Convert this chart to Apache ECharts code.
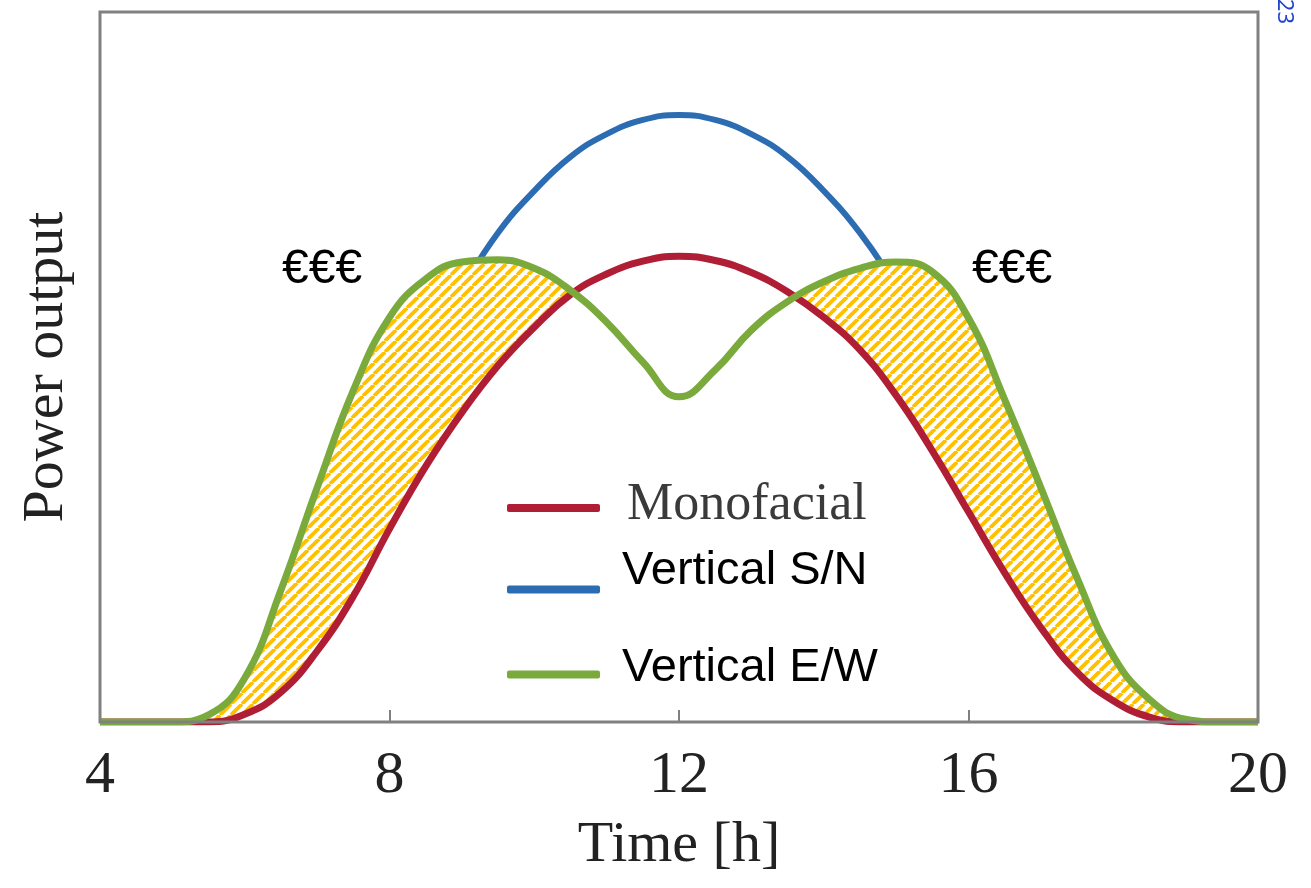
<!DOCTYPE html>
<html><head><meta charset="utf-8">
<script src="https://cdn.jsdelivr.net/npm/echarts@6.0.0/dist/echarts.min.js"></script>
<style>html,body{margin:0;padding:0;background:#fff}#c{width:1311px;height:888px}</style>
</head><body><div id="c"></div>
<script>
// ---- data ----
const hours = [4,4.5,5,5.5,6,6.5,7,7.5,8,8.5,9,9.5,10,10.5,11,11.5,12,12.5,13,13.5,14,14.5,15,15.5,16,16.5,17,17.5,18,18.5,19,19.5,20];
const monofacial = [0,0,0,0,1.1,4.2,10,17.7,27.2,36,43.6,50.2,55.6,60.2,63.1,64.9,65.6,65.0,63.3,60.6,57.0,52.4,46.0,38.2,29.6,21.0,13.3,7.0,3.0,0.7,0,0,0];
const verticalSN = [0,0,0,0.3,3,10,20,31,42,52,61,68.9,74.8,79.6,82.8,84.8,85.5,84.8,82.8,79.6,74.8,68.9,61.5,54,45,34,23,12,4,0.8,0,0,0];
const verticalEW = [0,0,0,1.0,6.2,18.6,33,46.7,57,62.4,64.8,65.1,63.9,60.8,56.3,50.7,45.8,49.6,55.2,59.2,62.0,63.9,64.8,63.4,56.9,45.4,33,20.3,9.3,3.2,0.4,0,0];
const xTicks = [4,8,12,16,20];
const seriesNames = ['Monofacial','Vertical S/N','Vertical E/W'];
const xAxisName = 'Time [h]';
const yAxisName = 'Power output';
const gainLabel = '€€€';

const pair = arr => hours.map((h,i)=>[h, arr[i]]);

// hatch pattern
const T = 11;
const pc = document.createElement('canvas');
pc.width = T; pc.height = T;
const ctx = pc.getContext('2d');
ctx.fillStyle = '#ffffff'; ctx.fillRect(0,0,T,T);
ctx.strokeStyle = '#FFC000'; ctx.lineWidth = 3.8;
for (const o of [-T,0,T]) { ctx.beginPath(); ctx.moveTo(o,T); ctx.lineTo(o+T,0); ctx.stroke(); }

const RED='#B01E36', BLUE='#2B6CB2', GREEN='#7BAA3C';
const SERIF = '"Liberation Serif","Times New Roman",serif';
const SANS = '"Liberation Sans","Noto Sans",sans-serif';
const SM = 0.45;

function legendItem(name, top, font, size, lh, color, spacer, padLeft) {
  return {
    selectedMode:false, orient:'vertical', left:507, top:top, padding:0,
    icon:'roundRect', itemWidth:93, itemHeight:8,
    data:[name],
    formatter: n => '{t|' + n + '}\n{s| }',
    textStyle:{rich:{
      t:{fontFamily:font, fontSize:size, lineHeight:lh, color:color, padding:[0,0,0,padLeft]},
      s:{fontSize:1, lineHeight:spacer}
    }}
  };
}

const chart = echarts.init(document.getElementById('c'), null, {renderer:'canvas'});
chart.setOption({
  animation:false,
  backgroundColor:'#fff',
  grid:{left:100,right:53,top:12,bottom:166,show:true,borderColor:'#808080',borderWidth:3,backgroundColor:'transparent',z:10},
  xAxis:{type:'value',min:4,max:20,interval:4,z:10,
    name:xAxisName,nameLocation:'middle',nameGap:95,
    nameTextStyle:{fontFamily:SERIF,fontSize:58,color:'#222'},
    axisLine:{show:false},
    axisTick:{show:true,inside:true,length:12,lineStyle:{color:'#808080',width:2}},
    axisLabel:{margin:24,fontFamily:SERIF,fontSize:60,color:'#222',
      formatter:v=>xTicks.includes(v)?String(v):''},
    splitLine:{show:false}},
  yAxis:{type:'value',min:0,max:100,
    name:yAxisName,nameLocation:'middle',nameGap:24,nameRotate:90,
    nameTextStyle:{fontFamily:SERIF,fontSize:58,color:'#222'},
    axisLine:{show:false},axisTick:{show:false},axisLabel:{show:false},splitLine:{show:false}},
  legend:[
    legendItem(seriesNames[0], 479, SERIF, 52, 54, '#3a3a3a', 6, 22),
    legendItem(seriesNames[1], 548, SANS, 47, 58, '#000', 36, 17),
    legendItem(seriesNames[2], 645, SANS, 47, 58, '#000', 12, 17)
  ],
  series:[
    {name:seriesNames[1],type:'line',data:pair(verticalSN),smooth:SM,showSymbol:false,z:1,
      color:BLUE,lineStyle:{color:BLUE,width:6},itemStyle:{color:BLUE}},
    {name:'gainArea',type:'line',data:pair(verticalEW),smooth:SM,showSymbol:false,z:2,
      lineStyle:{width:0},areaStyle:{color:{image:pc,repeat:'repeat'},opacity:1}},
    {name:'monoArea',type:'line',data:pair(monofacial),smooth:SM,showSymbol:false,z:3,
      lineStyle:{width:0},areaStyle:{color:'#ffffff',opacity:1}},
    {name:seriesNames[0],type:'line',data:pair(monofacial),smooth:SM,showSymbol:false,z:4,
      color:RED,lineStyle:{color:RED,width:7},itemStyle:{color:RED}},
    {name:seriesNames[2],type:'line',data:pair(verticalEW),smooth:SM,showSymbol:false,z:5,
      color:GREEN,lineStyle:{color:GREEN,width:7},itemStyle:{color:GREEN}}
  ],
  graphic:[
    {type:'text',left:282,top:246,z:20,style:{text:gainLabel,font:'48px "Liberation Sans",sans-serif',fill:'#000'}},
    {type:'text',left:972,top:246,z:20,style:{text:gainLabel,font:'48px "Liberation Sans",sans-serif',fill:'#000'}},
    {type:'text',x:1284,y:24,rotation:-Math.PI/2,z:20,style:{text:'2023',font:'22px "Noto Sans",sans-serif',fill:'#2244CC',align:'right',verticalAlign:'middle'}}
  ]
});
</script></body></html>
